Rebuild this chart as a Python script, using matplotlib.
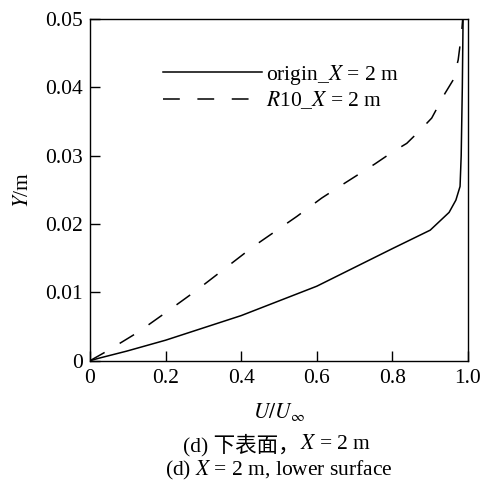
"""plot.py: velocity profile on the lower surface at X = 2 m"""

import matplotlib
matplotlib.use("Agg")
import matplotlib.pyplot as plt

plt.rcParams["font.family"] = ["Liberation Serif", "Noto Sans CJK SC"]
plt.rcParams["mathtext.fontset"] = "stix"

# origin_X = 2 m  (solid)
ORIGIN_U = [0, 0.026, 0.097, 0.2, 0.4, 0.6, 0.8, 0.9, 0.95, 0.968, 0.979, 0.982, 0.985, 0.987]
ORIGIN_Y = [0, 0.0004, 0.0014, 0.0030, 0.0066, 0.0109, 0.0164, 0.0191, 0.0217, 0.0235,
            0.0255, 0.030, 0.040, 0.050]

# R10_X = 2 m  (dashed)
R10_U = [0, 0.048, 0.128, 0.207, 0.282, 0.357, 0.432, 0.547, 0.613, 0.666, 0.754, 0.802,
         0.838, 0.873, 0.904, 0.939, 0.961, 0.974, 0.983, 0.986]
R10_Y = [0, 0.0015, 0.0042, 0.0073, 0.0103, 0.0135, 0.0167, 0.0211, 0.0238, 0.0257, 0.0288,
         0.0306, 0.0318, 0.0337, 0.0355, 0.0391, 0.0411, 0.0440, 0.0479, 0.0500]

X_TICKS = [0, 0.2, 0.4, 0.6, 0.8, 1.0]
X_LABELS = ["0", "0.2", "0.4", "0.6", "0.8", "1.0"]
Y_TICKS = [0, 0.01, 0.02, 0.03, 0.04, 0.05]
Y_LABELS = ["0", "0.01", "0.02", "0.03", "0.04", "0.05"]

FS = 15.5

fig = plt.figure(figsize=(4.88, 4.83), dpi=100)
ax = fig.add_axes([0.1844, 0.2532, 0.7746, 0.7075])

ax.plot(ORIGIN_U, ORIGIN_Y, color="black", lw=1.1, label=r"origin_$X$ = 2 m")
ax.plot(R10_U, R10_Y, color="black", lw=1.1, dashes=(11, 11.5), label=r"$R$10_$X$ = 2 m")

ax.set_xlim(0, 1.0)
ax.set_ylim(0, 0.05)
ax.set_xticks(X_TICKS)
ax.set_xticklabels(X_LABELS)
ax.set_yticks(Y_TICKS)
ax.set_yticklabels(Y_LABELS)
ax.tick_params(direction="in", length=7, width=1.0, labelsize=FS)
ax.tick_params(axis="x", pad=6)
ax.tick_params(axis="y", pad=5)
for s in ax.spines.values():
    s.set_linewidth(1.0)

ax.legend(loc="upper left", bbox_to_anchor=(0.193, 0.872), frameon=False,
          fontsize=FS, handlelength=4.6, handletextpad=0.2,
          labelspacing=0.12, borderpad=0, borderaxespad=0)

fig.text(0.048, 0.6066, r"$Y$/m", rotation=90, ha="center", va="center", fontsize=FS)
fig.text(0.572, 0.1476, r"$U/U_\infty$", ha="center", va="center", fontsize=FS)

fig.text(0.615, 0.0787, "(d) 下表面，", ha="right", va="center", fontsize=FS)
fig.text(0.615, 0.0787, r"$X$ = 2 m", ha="left", va="center", fontsize=FS)
fig.text(0.572, 0.0269, r"(d) $X$ = 2 m, lower surface", ha="center", va="center", fontsize=FS)

plt.savefig("out.png", dpi=100)
